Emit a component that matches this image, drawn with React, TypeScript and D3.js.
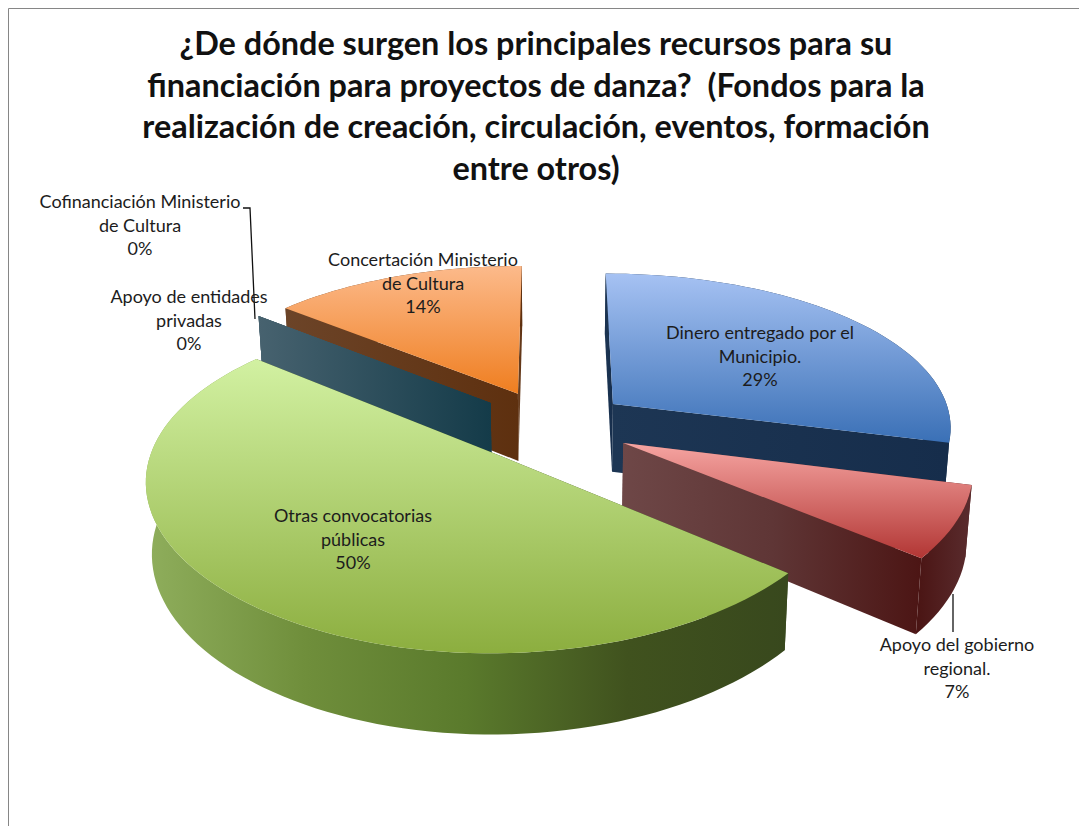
import React from "react";
import * as d3 from "d3";

const titleLines = [
  "¿De dónde surgen los principales recursos para su",
  "financiación para proyectos de danza?  (Fondos para la",
  "realización de creación, circulación, eventos, formación",
  "entre otros)",
];
const categories = [
  "Dinero entregado por el Municipio.",
  "Apoyo del gobierno regional.",
  "Otras convocatorias públicas",
  "Apoyo de entidades privadas",
  "Cofinanciación Ministerio de Cultura",
  "Concertación Ministerio de Cultura",
];
const values = [29, 7, 50, 0, 0, 14];
const percents = ["29%", "7%", "50%", "0%", "0%", "14%"];
const labelLines = [
  ["Dinero entregado por el", "Municipio."],
  ["Apoyo del gobierno", "regional."],
  ["Otras convocatorias", "públicas"],
  ["Apoyo de entidades", "privadas"],
  ["Cofinanciación Ministerio", "de Cultura"],
  ["Concertación Ministerio", "de Cultura"],
];
const labelCentres = [
  [760, 339],
  [957, 651],
  [353, 522],
  [189, 303],
  [140, 208],
  [423, 266],
];
const topStops = [
  ["#a6c2f3", "#3a70b6"],
  ["#f6a5a2", "#b23634"],
  ["#d2f1a2", "#8cae3f"],
  ["#44606e", "#44606e"],
  ["#44606e", "#44606e"],
  ["#fcba8b", "#ef7e20"],
];
const sideWallStops = [
  ["#1d3654", "#162d4b"],
  ["#6e4747", "#5f3636", "#4c1514"],
  ["#384a1e", "#384a1e"],
  ["#47626f", "#143b49"],
  ["#47626f", "#143b49"],
  ["#6c4428", "#5e300f"],
];
const rimWallStops = [
  ["#1b3351", "#162d4b"],
  ["#4a1413", "#5a2c2e"],
  ["#8fae5c", "#6f8e3b", "#5a7a2c", "#40521e", "#38481d"],
  ["#47626f", "#143b49"],
  ["#47626f", "#143b49"],
  ["#6c4428", "#5e300f"],
];
const paintOrder = [5, 4, 3, 0, 1, 2];

const W = 1079;
const H = 826;
const CX = 551;
const CY = 426;
const RX = 340;
const RY = 157;
const PERSP_X = 0.135;
const PERSP_Y = 0.156;
const EXPLODE = 0.235;
const DEPTH = 69;
const BOTTOM_SCALE = 0.985;

const sx = d3.scaleLinear().domain([-1, 1]).range([CX - RX, CX + RX]);
const sy = d3.scaleLinear().domain([-1, 1]).range([CY - RY, CY + RY]);

type P = [number, number];
function project(X: number, Z: number, lower: boolean): P {
  const sh = 1 / (1 - Z * PERSP_X);
  const s = 1 / (1 - Z * PERSP_Y);
  const k = lower ? BOTTOM_SCALE : 1;
  return [
    CX + (sx(X) - CX) * sh * k,
    CY + (sy(Z) - CY) * s * k + (lower ? DEPTH * s : 0),
  ];
}

const arcs = d3.pie<number>().sort(null)(values);
const line = d3.line<P>();

function buildSlice(i: number) {
  const a = arcs[i];
  const mid = (a.startAngle + a.endAngle) / 2;
  const ox = Math.sin(mid) * EXPLODE;
  const oz = -Math.cos(mid) * EXPLODE;
  const n = Math.max(2, Math.ceil(((a.endAngle - a.startAngle) * 180) / Math.PI / 2));
  const angles = d3.range(n + 1).map((k) => a.startAngle + ((a.endAngle - a.startAngle) * k) / n);
  const rim = (lower: boolean): P[] =>
    angles.map((t) => project(ox + Math.sin(t), oz - Math.cos(t), lower));
  const apexT = project(ox, oz, false);
  const apexB = project(ox, oz, true);
  const rimT = rim(false);
  const rimB = rim(true);
  const close = (pts: P[]) => (line(pts) || "") + "Z";
  return {
    top: close([apexT, ...rimT]),
    startWall: close([apexT, rimT[0], rimB[0], apexB]),
    endWall: close([apexT, rimT[n], rimB[n], apexB]),
    outerWall: close([...rimT, ...[...rimB].reverse()]),
  };
}

const FONT = "Lato, Carlito, Calibri, sans-serif";

function Grad({ id, stops, vertical }: { id: string; stops: string[]; vertical?: boolean }) {
  return (
    <linearGradient id={id} x1="0" y1="0" x2={vertical ? "0" : "1"} y2={vertical ? "1" : "0"}>
      {stops.map((c, k) => (
        <stop key={k} offset={k / (stops.length - 1)} stopColor={c} />
      ))}
    </linearGradient>
  );
}

export default function App() {
  return (
    <svg
      width={W}
      height={H}
      viewBox={`0 0 ${W} ${H}`}
      style={{ position: "absolute", left: 0, top: 0, background: "#fff" }}
    >
      <defs>
        {categories.map((_, i) => (
          <React.Fragment key={i}>
            <Grad id={`top${i}`} stops={topStops[i]} vertical />
            <Grad id={`side${i}`} stops={sideWallStops[i]} />
            <Grad id={`rim${i}`} stops={rimWallStops[i]} />
          </React.Fragment>
        ))}
      </defs>
      <path d={`M8.5 ${H}V8.5H${W}`} fill="none" stroke="#868686" strokeWidth={1} />
      {paintOrder.map((i) => {
        const s = buildSlice(i);
        return (
          <g key={i}>
            <path d={s.startWall} fill={`url(#side${i})`} />
            <path d={s.endWall} fill={`url(#side${i})`} />
            {values[i] > 0 && <path d={s.outerWall} fill={`url(#rim${i})`} />}
            {values[i] > 0 && <path d={s.top} fill={`url(#top${i})`} />}
          </g>
        );
      })}
      <path d="M243 208H250L255 319" fill="none" stroke="#111" strokeWidth={1.3} />
      <path d="M953 594V632" fill="none" stroke="#111" strokeWidth={1.3} />
      <g fontFamily={FONT} fontWeight={700} fontSize={32.4} fill="#111" textAnchor="middle">
        {titleLines.map((t, k) => (
          <text key={k} x={536} y={55 + k * 41.7} style={{ whiteSpace: "pre" }}>
            {t}
          </text>
        ))}
      </g>
      <g fontFamily={FONT} fontSize={18} fill="#1c1c1c" textAnchor="middle">
        {categories.map((_, i) => (
          <text key={i} x={labelCentres[i][0]} y={labelCentres[i][1]}>
            {[...labelLines[i], percents[i]].map((t, k) => (
              <tspan key={k} x={labelCentres[i][0]} dy={k === 0 ? 0 : 23.5}>
                {t}
              </tspan>
            ))}
          </text>
        ))}
      </g>
    </svg>
  );
}
